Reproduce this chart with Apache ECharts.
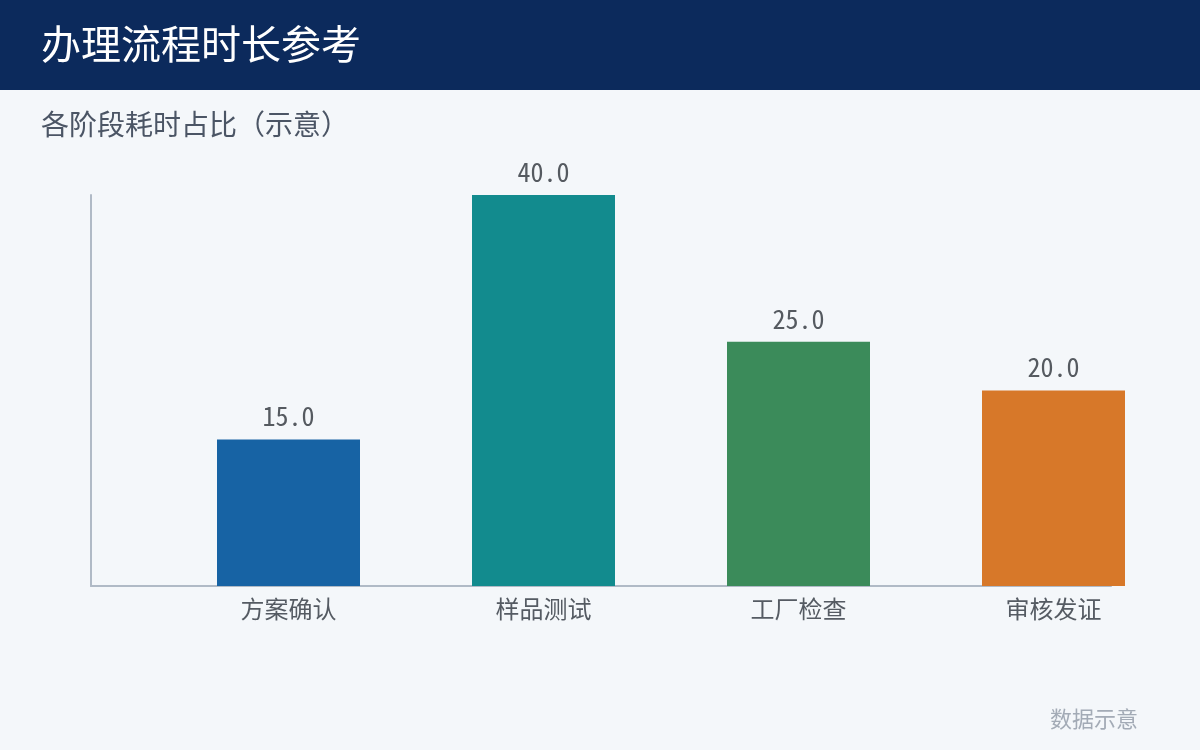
<!DOCTYPE html>
<html>
<head>
<meta charset="utf-8">
<script src="https://cdn.jsdelivr.net/npm/echarts@6/dist/echarts.min.js"></script>
<style>
html,body{margin:0;padding:0;background:#f4f7fa;}
#chart{width:1200px;height:750px;}
</style>
</head>
<body>
<div id="chart"></div>
<script>
var categories = ['方案确认', '样品测试', '工厂检查', '审核发证'];
var values = [15.0, 40.0, 25.0, 20.0];
var barColors = ['#1763a4', '#128b8e', '#3b8b5a', '#d77829'];
var titleText = '办理流程时长参考';
var subtitleText = '各阶段耗时占比（示意）';
var noteText = '数据示意';
var yMin = 0, yMax = 40;

var CJK = '"Noto Sans CJK SC", "Noto Sans", sans-serif';
var MONO = '"Noto Sans Mono CJK SC", "Noto Sans CJK SC", monospace';

var chart = echarts.init(document.getElementById('chart'), null, {renderer: 'canvas'});
var option = {
  backgroundColor: '#f4f7fa',
  animation: false,
  graphic: [
    {type: 'rect', left: 0, top: 0, z: 0, shape: {x: 0, y: 0, width: 1200, height: 90}, style: {fill: '#0c2a5c'}},
    {type: 'text', left: 41, top: 24, z: 1, style: {text: titleText, fill: '#ffffff', font: '40px ' + CJK}},
    {type: 'text', left: 41, top: 110, z: 1, style: {text: subtitleText, fill: '#4b5565', font: '28px ' + CJK}},
    {type: 'text', right: 62, top: 708, z: 1, style: {text: noteText, fill: '#a3abb6', font: '22px ' + CJK}}
  ],
  grid: [
    {left: 91, top: 195, width: 1020, height: 391, containLabel: false},
    {left: 161, top: 195, width: 1020, height: 391, containLabel: false}
  ],
  xAxis: [
    {type: 'category', gridIndex: 0, data: categories,
     axisLine: {show: true, lineStyle: {color: '#b0bac6', width: 2}},
     axisTick: {show: false}, axisLabel: {show: false}, splitLine: {show: false}},
    {type: 'category', gridIndex: 1, data: categories,
     axisLine: {show: false}, axisTick: {show: false},
     axisLabel: {show: true, margin: 11, color: '#555b63', fontSize: 24, fontFamily: CJK},
     splitLine: {show: false}}
  ],
  yAxis: [
    {type: 'value', gridIndex: 0, min: yMin, max: yMax,
     axisLine: {show: true, lineStyle: {color: '#b0bac6', width: 2}},
     axisTick: {show: false}, axisLabel: {show: false}, splitLine: {show: false}},
    {type: 'value', gridIndex: 1, min: yMin, max: yMax, show: false,
     splitLine: {show: false}}
  ],
  series: [{
    type: 'bar',
    xAxisIndex: 1, yAxisIndex: 1,
    barWidth: 143,
    z: 5,
    data: values.map(function (v, i) { return {value: v, itemStyle: {color: barColors[i]}}; }),
    label: {
      show: true, position: 'top', distance: 10,
      color: '#555a60', fontSize: 26, fontFamily: MONO,
      formatter: function (p) { return Number(p.value).toFixed(1); }
    }
  }]
};
chart.setOption(option);
</script>
</body>
</html>
